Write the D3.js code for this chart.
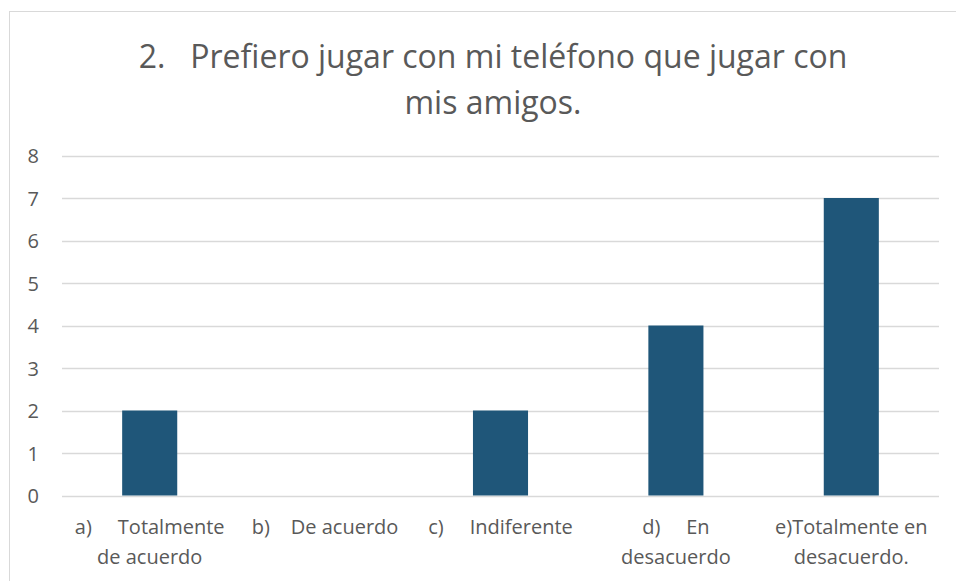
<!DOCTYPE html>
<html><head><meta charset="utf-8">
<script src="https://cdn.jsdelivr.net/npm/d3@7/dist/d3.min.js"></script>
<style>body{margin:0;background:#fff}svg{display:block}text{font-family:"Open Sans",sans-serif;fill:#595959;white-space:pre}</style>
</head><body>
<script>
const categories = ["a) Totalmente de acuerdo","b) De acuerdo","c) Indiferente","d) En desacuerdo","e)Totalmente en desacuerdo."];
const values = [2,0,2,4,7];
const xTickLines = [["a)     Totalmente","de acuerdo"],["b)    De acuerdo"],["c)     Indiferente"],["d)     En","desacuerdo"],["e)Totalmente en","desacuerdo."]];
const yTicks = [0,1,2,3,4,5,6,7,8];
const titleLines = ["2.   Prefiero jugar con mi teléfono que jugar con","mis amigos."];

(function(){
const W=956,H=581;
const svg=d3.select("body").append("svg").attr("width",W).attr("height",H);
svg.append("rect").attr("x",9.5).attr("y",11.5).attr("width",980).attr("height",620).attr("fill","#fff").attr("stroke","#d9d9d9").attr("stroke-width",1);

const pL=62,pR=939,pT=155.5,pB=495.5;
const x=d3.scaleBand().domain(categories).range([pL,pR]).padding(0);
const y=d3.scaleLinear().domain([0,8]).range([pB,pT]);

svg.append("g").selectAll("line").data(yTicks).join("line")
  .attr("x1",pL).attr("x2",pR).attr("y1",d=>Math.round(y(d))+0.5).attr("y2",d=>Math.round(y(d))+0.5)
  .attr("stroke","#d9d9d9").attr("stroke-width",1.3);

const yAxis=d3.axisLeft(y).tickValues(yTicks).tickSize(0).tickPadding(0).tickFormat(d3.format("d"));
const gy=svg.append("g").attr("transform","translate(39,0)").call(yAxis);
gy.select(".domain").remove();
gy.selectAll("text").attr("font-size",20).attr("font-family","'Open Sans',sans-serif").attr("fill","#595959").attr("dy","0.36em");

const bw=x.bandwidth()*0.314;
svg.append("g").selectAll("rect").data(values).join("rect")
  .attr("x",(d,i)=>x(categories[i])+x.bandwidth()/2-bw/2)
  .attr("width",bw)
  .attr("y",d=>y(d)).attr("height",d=>y(0)-y(d))
  .attr("fill","#1f5679");

const gx=svg.append("g");
xTickLines.forEach((lines,i)=>{
  const cx=x(categories[i])+x.bandwidth()/2;
  const t=gx.append("text").attr("text-anchor","middle").attr("font-size",20);
  lines.forEach((l,j)=>t.append("tspan").attr("x",cx).attr("y",534+j*30).text(l));
});

const tt=svg.append("text").attr("text-anchor","middle").attr("font-size",32).attr("fill","#595959");
titleLines.forEach((l,j)=>tt.append("tspan").attr("x",493).attr("y",68+j*46).text(l));
})();
</script>
</body></html>
